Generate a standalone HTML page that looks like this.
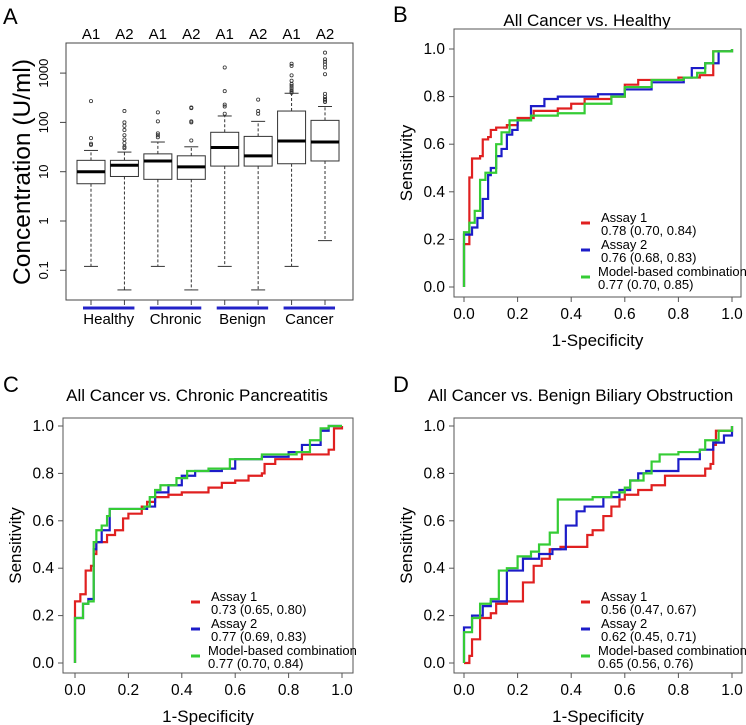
<!DOCTYPE html>
<html><head><meta charset="utf-8"><style>
body{margin:0;background:#fff}
svg{display:block;font-family:"Liberation Sans",Arial,sans-serif}
</style></head><body>
<svg id="fig" width="746" height="725" viewBox="0 0 746 725"></svg>
<script>
// ---- Panel A data (U/ml) ----
const groups = ["Healthy","Chronic","Benign","Cancer"];
const assays = ["A1","A2","A1","A2","A1","A2","A1","A2"];
const whiskLow = [0.12,0.04,0.12,0.04,0.12,0.04,0.12,0.4];
const q1 = [5.7,8,7,7,13,13,14.5,16.5];
const med = [10,13.5,16.5,12.5,31,21,42,40];
const q3 = [17,17,23,21,63,52,170,110];
const whiskHigh = [27,25,40,32,135,105,390,210];
const outliers = [
 [270,48,37,35],
 [170,100,85,70,55,45,38,32,30],
 [160,105,60,55,50],
 [200,195,105,100,43],
 [1300,430,230,210,150],
 [290,170,150],
 [1550,1400,900,700,600,550,500,450,420,400],
 [2600,1900,1700,1500,1300,950,380,330,300,280,260]
];
const logTicks = [0.1,1,10,100,1000];
const rocTicks = [0,0.2,0.4,0.6,0.8,1.0];

// ---- ROC data ----
const bRedX=[0,0,0.02,0.03,0.06,0.07,0.09,0.1,0.12,0.16,0.2,0.26,0.35,0.4,0.45,0.55,0.6,0.65,0.8,0.88,0.93,0.93,1];
const bRedY=[0,0.18,0.46,0.54,0.55,0.62,0.63,0.66,0.67,0.68,0.71,0.74,0.75,0.77,0.79,0.80,0.85,0.87,0.88,0.89,0.90,0.99,1];
const bBlueX=[0,0,0.03,0.05,0.07,0.09,0.1,0.12,0.14,0.16,0.18,0.2,0.25,0.3,0.35,0.5,0.6,0.7,0.82,0.85,0.9,0.95,0.95,1];
const bBlueY=[0,0.22,0.25,0.29,0.37,0.47,0.5,0.55,0.58,0.64,0.66,0.70,0.76,0.79,0.80,0.81,0.83,0.86,0.88,0.92,0.94,0.96,0.99,1];
const bGreenX=[0,0,0.02,0.04,0.06,0.08,0.12,0.14,0.17,0.25,0.35,0.45,0.55,0.6,0.7,0.82,0.87,0.9,0.93,1];
const bGreenY=[0,0.23,0.27,0.32,0.45,0.48,0.60,0.65,0.70,0.72,0.73,0.77,0.80,0.84,0.87,0.88,0.90,0.94,0.99,1];
const cRedX=[0,0,0.01,0.02,0.04,0.06,0.07,0.08,0.1,0.12,0.15,0.18,0.2,0.25,0.27,0.3,0.35,0.4,0.5,0.55,0.6,0.65,0.7,0.71,0.75,0.85,0.95,0.97,0.97,1];
const cRedY=[0,0.26,0.26,0.29,0.39,0.41,0.46,0.51,0.51,0.54,0.56,0.61,0.63,0.66,0.68,0.70,0.71,0.72,0.74,0.76,0.77,0.79,0.80,0.84,0.86,0.88,0.9,0.91,0.99,1];
const cBlueX=[0,0,0.03,0.05,0.06,0.07,0.08,0.1,0.13,0.27,0.3,0.35,0.4,0.45,0.55,0.6,0.7,0.8,0.85,0.92,0.95,1];
const cBlueY=[0,0.19,0.25,0.27,0.27,0.48,0.51,0.56,0.65,0.66,0.72,0.75,0.79,0.81,0.82,0.86,0.87,0.89,0.92,0.98,1,1];
const cGreenX=[0,0,0.03,0.05,0.07,0.08,0.1,0.12,0.13,0.26,0.28,0.3,0.32,0.38,0.42,0.5,0.58,0.7,0.83,0.88,0.92,0.95,1];
const cGreenY=[0,0.19,0.25,0.26,0.51,0.56,0.58,0.62,0.65,0.66,0.70,0.73,0.75,0.78,0.81,0.82,0.86,0.88,0.89,0.94,0.99,1,1];
const dRedX=[0,0.02,0.03,0.06,0.1,0.12,0.16,0.22,0.26,0.29,0.32,0.36,0.46,0.48,0.52,0.55,0.58,0.6,0.65,0.7,0.75,0.9,0.92,0.93,0.94,1];
const dRedY=[0,0.03,0.1,0.19,0.21,0.25,0.26,0.34,0.41,0.44,0.48,0.49,0.54,0.56,0.62,0.66,0.69,0.71,0.73,0.75,0.79,0.82,0.84,0.92,0.98,1];
const dBlueX=[0,0,0.03,0.07,0.1,0.16,0.2,0.22,0.28,0.33,0.38,0.42,0.45,0.52,0.58,0.62,0.65,0.68,0.8,0.88,0.93,0.97,1];
const dBlueY=[0,0.15,0.2,0.24,0.26,0.39,0.39,0.44,0.46,0.48,0.58,0.64,0.66,0.70,0.73,0.77,0.80,0.81,0.86,0.90,0.93,0.96,1];
const dGreenX=[0,0,0.03,0.06,0.1,0.13,0.16,0.2,0.25,0.28,0.32,0.35,0.48,0.55,0.6,0.62,0.67,0.7,0.73,0.8,0.88,0.9,0.95,1];
const dGreenY=[0,0.13,0.19,0.25,0.27,0.39,0.40,0.45,0.47,0.50,0.55,0.69,0.70,0.72,0.74,0.77,0.80,0.85,0.88,0.89,0.90,0.94,0.98,1];
const legB=["0.78 (0.70, 0.84)","0.76 (0.68, 0.83)","0.77 (0.70, 0.85)"];
const legC=["0.73 (0.65, 0.80)","0.77 (0.69, 0.83)","0.77 (0.70, 0.84)"];
const legD=["0.56 (0.47, 0.67)","0.62 (0.45, 0.71)","0.65 (0.56, 0.76)"];

const NS="http://www.w3.org/2000/svg";
const svg=document.getElementById('fig');
function el(tag,attrs,parent,text){const e=document.createElementNS(NS,tag);for(const k in attrs)e.setAttribute(k,attrs[k]);if(text!==undefined)e.textContent=text;(parent||svg).appendChild(e);return e;}

// ---- Panel A ----
const gA=el('g',{});


const yA=v=>221-49.3*Math.log10(v);
const xA=i=>91+i*33.43;
const tA=el('text',{x:3,y:24,'font-size':22},gA,'A');

const fA=el('rect',{x:66,y:43,width:287,height:257,fill:'none',stroke:'#444','stroke-width':1},gA);

logTicks.forEach(t=>{
  const y=yA(t);
  el('line',{x1:60,x2:66,y1:y,y2:y,stroke:'#444'},gA);
  const tt=el('text',{x:48,y:y,'font-size':13,'text-anchor':'middle',transform:`rotate(-90 48 ${y})`},gA,String(t));
  
});
const yl=el('text',{x:30,y:172,'font-size':24.5,'text-anchor':'middle',transform:'rotate(-90 30 172)'},gA,'Concentration (U/ml)');

assays.forEach((a,i)=>{
  const x=xA(i),w=28;
  const g=el('g',{},gA);
  
  
  const at=el('text',{x:x,y:39,'font-size':15,'text-anchor':'middle'},gA,a);
  
  el('line',{x1:x,x2:x,y1:yA(q3[i]),y2:yA(whiskHigh[i]),stroke:'#333','stroke-dasharray':'3,2'},g);
  el('line',{x1:x,x2:x,y1:yA(q1[i]),y2:yA(whiskLow[i]),stroke:'#333','stroke-dasharray':'3,2'},g);
  el('line',{x1:x-7,x2:x+7,y1:yA(whiskHigh[i]),y2:yA(whiskHigh[i]),stroke:'#333'},g);
  el('line',{x1:x-7,x2:x+7,y1:yA(whiskLow[i]),y2:yA(whiskLow[i]),stroke:'#333'},g);
  el('rect',{x:x-w/2,y:yA(q3[i]),width:w,height:yA(q1[i])-yA(q3[i]),fill:'#fff',stroke:'#333'},g);
  el('line',{x1:x-w/2,x2:x+w/2,y1:yA(med[i]),y2:yA(med[i]),stroke:'#000','stroke-width':3},g);
  outliers[i].forEach(o=>el('circle',{cx:x,cy:yA(o),r:1.6,fill:'none',stroke:'#333','stroke-width':0.8},g));
  el('line',{x1:x,x2:x,y1:300,y2:305,stroke:'#444'},gA);
});
groups.forEach((gname,j)=>{
  const x0=xA(2*j)-8,x1=xA(2*j+1)+10;
  const b=el('line',{x1:x0,x2:x1,y1:308,y2:308,stroke:'#2323c8','stroke-width':3},gA);
  
  const t=el('text',{x:(x0+x1)/2,y:324,'font-size':15,'text-anchor':'middle'},gA,gname);
  
});

// ---- ROC panels ----
function roc(p){
  const g=el('g',{});
  
  
  const X=v=>p.x0+v*(p.x1-p.x0), Y=v=>p.y0-v*(p.y0-p.y1);
  const L=el('text',{x:p.lx,y:p.ly,'font-size':22},g,p.letter);
  
  const T=el('text',{x:p.tx,y:p.ty,'font-size':17,'text-anchor':p.ta},g,p.title);
  
  const F=el('rect',{x:p.fx0,y:p.fy0,width:p.fx1-p.fx0,height:p.fy1-p.fy0,fill:'none',stroke:'#555'},g);
  
  rocTicks.forEach(t=>{
    el('line',{x1:X(t),x2:X(t),y1:p.fy1,y2:p.fy1+5,stroke:'#555'},g);
    const xt=el('text',{x:X(t),y:p.fy1+22,'font-size':15.5,'text-anchor':'middle'},g,t.toFixed(1));
    
    el('line',{x1:p.fx0-5,x2:p.fx0,y1:Y(t),y2:Y(t),stroke:'#555'},g);
    const yt=el('text',{x:p.fx0-9,y:Y(t)+5,'font-size':15.5,'text-anchor':'end'},g,t.toFixed(1));
    
  });
  const xl=el('text',{x:(p.fx0+p.fx1)/2,y:p.fy1+49,'font-size':17,'text-anchor':'middle'},g,'1-Specificity');
  
  const yx=p.fx0-42,yc=(p.fy0+p.fy1)/2;
  const ylb=el('text',{x:yx,y:yc,'font-size':17,'text-anchor':'middle',transform:`rotate(-90 ${yx} ${yc})`},g,'Sensitivity');
  
  const cols=['#e02020','#1c1cc8','#35cc35'];
  const names=['assay-1-curve','assay-2-curve','combination-curve'];
  p.series.forEach((s,k)=>{
    let d=`M${X(s[0][0])},${Y(s[1][0])}`;
    for(let i=1;i<s[0].length;i++){d+=` H${X(s[0][i])} V${Y(s[1][i])}`;}
    const path=el('path',{d:d,fill:'none',stroke:cols[k],'stroke-width':2.2},g);
    
  });
  const labs=['Assay 1','Assay 2','Model-based combination'];
  labs.forEach((lb,k)=>{
    const ly=p.legY+k*27;
    const lg=el('g',{},g);
    
    el('line',{x1:p.legX,x2:p.legX+9,y1:ly+1,y2:ly+1,stroke:cols[k],'stroke-width':3},lg);
    el('text',{x:p.legX+(k==2?17:20),y:ly,'font-size':13},lg,lb);
    el('text',{x:p.legX+(k==2?17:20),y:ly+13,'font-size':13},lg,p.leg[k]);
  });
}
roc({name:'panel-b-roc',letter:'B',lx:393,ly:22,title:'All Cancer vs. Healthy',tx:587,ty:26,ta:'middle',
  x0:464,x1:732,y0:287,y1:49,fx0:454,fx1:741,fy0:29,fy1:297,legX:581,legY:222,leg:legB,
  series:[[bRedX,bRedY],[bBlueX,bBlueY],[bGreenX,bGreenY]]});
roc({name:'panel-c-roc',letter:'C',lx:3,ly:392,title:'All Cancer vs. Chronic Pancreatitis',tx:197,ty:401,ta:'middle',
  x0:75,x1:342,y0:663,y1:426,fx0:63,fx1:353,fy0:418,fy1:673,legX:191,legY:601,leg:legC,
  series:[[cRedX,cRedY],[cBlueX,cBlueY],[cGreenX,cGreenY]]});
roc({name:'panel-d-roc',letter:'D',lx:393,ly:392,title:'All Cancer vs. Benign Biliary Obstruction',tx:428,ty:401,ta:'start',
  x0:464,x1:732,y0:663,y1:426,fx0:454,fx1:742,fy0:418,fy1:673,legX:581,legY:601,leg:legD,
  series:[[dRedX,dRedY],[dBlueX,dBlueY],[dGreenX,dGreenY]]});
</script>
</body></html>
